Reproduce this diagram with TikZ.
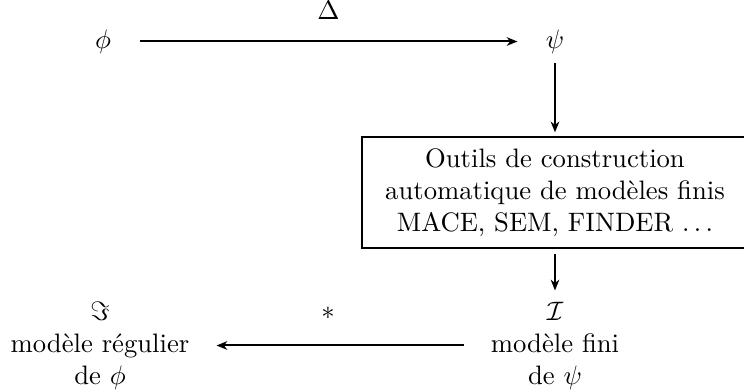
\documentclass[tikz,border=0pt]{standalone}
\usetikzlibrary{arrows.meta,fit}
\tikzset{
  arr/.style={-{Stealth[length=4pt,width=3.2pt,inset=1.2pt]}, line width=0.75pt},
  framebox/.style={draw, line width=0.5pt, inner sep=0pt},
  boxtext/.style={align=center, inner sep=0pt},
  stack/.style={align=center, inner ysep=0pt, minimum height=40.9pt},
}
\begin{document}
\begin{tikzpicture}[x=0.375pt,y=-0.375pt]
\useasboundingbox (0,0) rectangle (744,392);
\clip (0,0) rectangle (744,392);
\node[minimum width=27pt] (phi) at (103,41.5) {$\phi$};
\node[minimum width=27.75pt] (psi) at (555,41.5) {$\psi$};
\node[framebox, fit={(362,137) (775,248)}] (frame) {};
\node[boxtext] (tools) at (555,192.5) {Outils de construction\\automatique de modèles finis\\MACE, SEM, FINDER $\ldots$};
\node[stack, minimum width=67.5pt] (fin) at (555,345.5) {$\mathcal{I}$\\modèle fini\\de $\psi$};
\node[stack, minimum width=87pt] (reg) at (100,345.5) {$\Im$\\modèle régulier\\de $\phi$};
\draw[arr] (phi) -- node[above=4.5pt] (delta) {$\Delta$} (psi);
\draw[arr, shorten >=1.5pt] (psi) -- (psi |- frame.north);
\draw[arr, shorten <=1.9pt] (frame.south -| fin) -- (fin);
\draw[arr] (fin) -- node[pos=0.55, above=6pt] (star) {$*$} (reg);
\end{tikzpicture}
\end{document}
